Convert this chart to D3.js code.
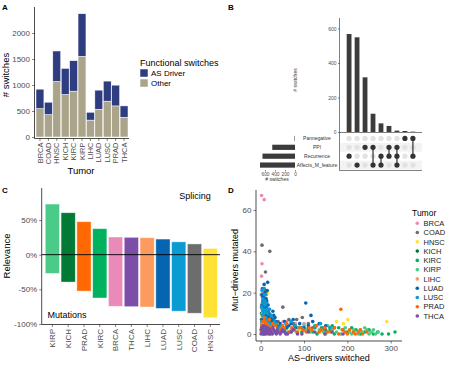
<!DOCTYPE html>
<html><head><meta charset="utf-8">
<script src="https://cdnjs.cloudflare.com/ajax/libs/d3/7.8.5/d3.min.js"></script>
<style>
body{margin:0;background:#fff;}
svg{font-family:"Liberation Sans",Arial,sans-serif;}
</style></head><body>
<svg id="fig" width="450" height="370"></svg>
<script>
// ---- data: panel A (switches per tumor)
const tumorsA = ["BRCA","COAD","HNSC","KICH","KIRC","KIRP","LIHC","LUAD","LUSC","PRAD","THCA"];
const otherA  = [547,431,1068,817,882,1551,325,534,689,598,380];
const driverA = [373,238,586,502,585,819,151,367,386,399,218];
const ticksA  = [0,500,1000,1500,2000];

// ---- data: panel B (upset)
const setNames = ["Pannegative","PPI","Recurrence","Affects_M_feature"];
const setSizes = [10,455,650,700];
const interCounts = [568,549,317,106,50,35,8,6,2];
const interSets = [["Recurrence"],["Affects_M_feature"],["PPI"],["PPI","Affects_M_feature"],
  ["Recurrence","Affects_M_feature"],["PPI","Recurrence"],["PPI","Recurrence","Affects_M_feature"],
  ["Pannegative"],["Pannegative","Recurrence"]];

// ---- data: panel C (relevance)
const tumorsC   = ["KIRP","KICH","PRAD","KIRC","BRCA","THCA","LIHC","LUAD","LUSC","COAD","HNSC"];
const splicingC = [73,60.5,47.5,37.5,25.5,25,24.5,22.5,18.5,15.5,9];
const mutationsC= [-27,-39.5,-52.5,-62.5,-74.5,-75,-75.5,-77.5,-81.5,-84.5,-91];

// ---- data: panel D (AS-drivers switched vs mut-drivers mutated)
const ptsBRCA = [[2,67],[8,65],[3,34],[2,28],[1,19],[5,20],[8,18],[12,16],[3,12],[6,9],[15,7],[10,5],[4,3],[20,4],[52,6],[60,6],[80,5],[100,5],[130,4],[25,2],[40,3],[70,2],[2,1],[6,0],[9,21],[14,11],[18,9],[35,5],[90,3]];
const ptsCOAD = [[3,43],[21,40],[11,30],[51,13],[96,8],[83,7],[8,22],[12,21],[4,18],[15,14],[6,12],[10,10],[20,9],[30,7],[40,6],[60,4],[75,5],[2,5],[18,3],[120,3],[150,2],[5,1],[13,17],[7,15],[17,11],[24,8],[110,5],[65,7]];
const ptsHNSC = [[175,6],[201,7],[191,5],[291,6],[14,19],[9,17],[5,14],[12,12],[3,8],[20,6],[30,4],[7,3],[45,2],[60,3],[90,2],[110,3],[140,1],[16,20],[10,9],[25,5]];
const ptsKICH = [[2,10],[4,6],[6,3],[10,2],[8,0],[15,1],[3,4],[1,2],[12,5],[20,3]];
const ptsKIRC = [[310,1],[295,0],[260,0],[240,1],[220,2],[200,1],[180,3],[160,2],[140,3],[120,1],[100,2],[85,3],[70,1],[55,2],[45,4],[35,1],[25,2],[170,0],[150,1],[130,0],[250,2],[230,0],[190,2],[110,3],[95,1],[78,4],[125,4],[145,2],[165,4],[210,3],[270,1],[280,0],[60,3]];
const ptsKIRP = [[271,1],[265,0],[255,1],[245,2],[235,1],[225,0],[215,2],[205,1],[195,3],[185,0],[165,2],[155,4],[145,1],[135,2],[125,3],[115,1],[105,2],[88,3],[75,2],[62,1],[50,3],[40,2],[30,1],[260,2],[250,0],[240,3],[230,2],[210,0],[175,1],[160,3],[150,0],[100,4],[82,1]];
const ptsLIHC = [[2,14],[4,10],[6,7],[3,5],[8,3],[12,2],[1,1],[15,4],[20,1],[5,0],[10,6],[25,3],[7,12],[11,8],[30,2]];
const ptsLUAD = [[104,15],[8,24],[16,25],[116,9],[75,7],[4,22],[10,20],[6,18],[14,16],[3,14],[12,13],[20,12],[8,11],[5,9],[18,8],[25,7],[30,9],[35,6],[45,5],[55,6],[65,4],[90,5],[110,4],[135,5],[150,4],[9,6],[13,4],[22,5],[40,3],[170,3],[100,3],[60,3],[2,7],[5,16],[11,17],[15,21],[7,13],[17,14],[19,10],[23,9],[28,11],[33,8],[38,4],[50,4],[70,5],[80,3],[120,6],[3,19],[13,9],[26,6]];
const ptsLUSC = [[7,22],[3,21],[12,19],[5,17],[9,16],[14,15],[2,13],[6,12],[11,11],[16,10],[4,9],[8,8],[13,7],[18,6],[22,5],[3,6],[28,4],[35,5],[42,3],[70,6],[80,4],[95,3],[125,3],[138,5],[160,3],[10,3],[17,4],[6,4],[4,15],[10,14],[15,12],[7,10],[12,8],[19,12],[24,9],[9,19],[5,11],[20,7],[32,6],[48,4],[58,5],[110,2],[145,3]];
const ptsPRAD = [[185,12],[214,1],[8,8],[5,6],[12,5],[20,7],[3,4],[25,3],[35,4],[45,2],[55,3],[65,1],[78,2],[90,3],[105,1],[118,2],[128,4],[140,2],[155,1],[170,3],[180,0],[195,1],[205,2],[225,1],[235,0],[245,1],[60,5],[15,2],[10,6],[18,4],[28,5],[40,1],[50,4],[72,3],[85,1],[98,2],[112,3],[135,1],[148,3],[162,1],[188,2],[200,0],[218,0],[230,2]];
const ptsTHCA = [[1,0],[3,1],[5,2],[7,0],[9,1],[11,3],[13,0],[15,2],[17,1],[19,0],[21,2],[24,1],[27,0],[30,2],[33,1],[36,0],[40,1],[45,0],[50,2],[55,1],[62,0],[70,1],[85,0],[110,1],[148,0],[190,0],[2,3],[6,4],[10,2],[4,1],[8,3],[12,1],[16,3],[22,0],[28,3],[38,2],[48,1],[58,0],[75,2],[95,0],[125,1],[165,1]];
const tumorsD = ["BRCA","COAD","HNSC","KICH","KIRC","KIRP","LIHC","LUAD","LUSC","PRAD","THCA"];
const pointsD = [ptsBRCA,ptsCOAD,ptsHNSC,ptsKICH,ptsKIRC,ptsKIRP,ptsLIHC,ptsLUAD,ptsLUSC,ptsPRAD,ptsTHCA];

const tumorColor = d3.scaleOrdinal()
  .domain(["BRCA","COAD","HNSC","KICH","KIRC","KIRP","LIHC","LUAD","LUSC","PRAD","THCA"])
  .range(["#ea8ab9","#6d6d6d","#ffe235","#017a36","#00b260","#4bcb88","#fd9b5f","#0565b0","#0a9bd3","#ff6803","#7b4ea8"]);

const svg = d3.select("#fig");

function cleanAxis(g, fs) {
  g.select(".domain").remove();
  g.selectAll(".tick line").attr("stroke", "#333").attr("stroke-width", 0.6);
  g.selectAll(".tick text").attr("fill", "#4d4d4d").style("font-size", fs + "px");
}
function line(g, x1, y1, x2, y2, w) {
  g.append("line").attr("x1", x1).attr("y1", y1).attr("x2", x2).attr("y2", y2)
    .attr("stroke", "#000").attr("stroke-width", w || 0.7);
}
function label(g, txt, x, y, o) {
  o = o || {};
  const t = g.append("text").attr("x", x).attr("y", y).text(txt)
    .style("font-size", (o.fs || 9) + "px").attr("fill", o.fill || "#000")
    .attr("text-anchor", o.anchor || "middle");
  if (o.rot) t.attr("transform", `rotate(${o.rot},${x},${y})`);
  if (o.bold) t.style("font-weight", "bold");
  return t;
}

// ================= Panel A
(function() {
  const g = svg.append("g");
  const x = d3.scaleBand().domain(tumorsA).range([35.5, 128.5]).padding(0.06);
  const y = d3.scaleLinear().domain([0, 2000]).range([137, 33]);
  const stack = tumorsA.map((t, i) => ({ t, other: otherA[i], driver: driverA[i] }));
  g.selectAll("rect.o").data(stack).enter().append("rect")
    .attr("x", d => x(d.t)).attr("width", x.bandwidth())
    .attr("y", d => y(d.other)).attr("height", d => y(0) - y(d.other))
    .attr("fill", "#a9a48a").attr("stroke", "#fff").attr("stroke-width", 0.5);
  g.selectAll("rect.d").data(stack).enter().append("rect")
    .attr("x", d => x(d.t)).attr("width", x.bandwidth())
    .attr("y", d => y(d.other + d.driver)).attr("height", d => y(d.other) - y(d.other + d.driver))
    .attr("fill", "#2e3c80").attr("stroke", "#fff").attr("stroke-width", 0.5);
  const ya = g.append("g").attr("transform", "translate(34.5,0)")
    .call(d3.axisLeft(y).tickValues(ticksA).tickFormat(d3.format("d")).tickSize(2.5).tickPadding(2));
  cleanAxis(ya, 8);
  const xa = g.append("g").attr("transform", "translate(0,138.5)")
    .call(d3.axisBottom(x).tickSize(2.5));
  cleanAxis(xa, 7.5);
  xa.selectAll(".tick text").attr("transform", "rotate(-90)").attr("text-anchor", "end")
    .attr("x", -4).attr("y", 0).attr("dy", "0.35em");
  line(g, 34.5, 7, 34.5, 138.5);
  line(g, 34.5, 138.5, 129, 138.5);
  label(g, "# switches", 9, 75, { rot: -90, fs: 9.5 });
  label(g, "Tumor", 81, 174, { fs: 9.5 });
  // legend
  label(g, "Functional switches", 140, 66, { anchor: "start", fs: 9 });
  const leg = [["AS Driver", "#2e3c80"], ["Other", "#a9a48a"]];
  leg.forEach((d, i) => {
    g.append("rect").attr("x", 140).attr("y", 69 + i * 10).attr("width", 8).attr("height", 8)
      .attr("fill", d[1]).attr("stroke", "#fff").attr("stroke-width", 0.5);
    label(g, d[0], 151, 76 + i * 10, { anchor: "start", fs: 8 });
  });
  label(g, "A", 2, 10, { anchor: "start", fs: 8, bold: true });
})();

// ================= Panel B
(function() {
  const g = svg.append("g");
  const x = d3.scaleBand().domain(d3.range(interCounts.length)).range([343.5, 418.5]).padding(0.4);
  const y = d3.scaleLinear().domain([0, 600]).range([132, 28.5]);
  g.selectAll("rect.b").data(interCounts).enter().append("rect")
    .attr("x", (d, i) => x(i)).attr("width", x.bandwidth())
    .attr("y", d => y(d)).attr("height", d => y(0) - y(d)).attr("fill", "#3b3b3b");
  const ya = g.append("g").attr("transform", "translate(339.5,0)")
    .call(d3.axisLeft(y).tickValues([0, 200, 400, 600]).tickSize(1.5).tickPadding(1.5));
  cleanAxis(ya, 5);
  line(g, 339.5, 18, 339.5, 132.5, 0.5);
  line(g, 339.5, 132.5, 422, 132.5, 0.5);
  label(g, "# switches", 297, 80, { rot: -90, fs: 5, fill: "#333" });

  // matrix
  const r = d3.scaleBand().domain(setNames).range([134, 169.5]);
  setNames.forEach((s, i) => {
    if (i % 2 === 1) g.append("rect").attr("x", 340).attr("y", r(s)).attr("width", 82)
      .attr("height", r.bandwidth()).attr("fill", "#f3f3f3");
  });
  interSets.forEach((sets, i) => {
    const cx = x(i) + x.bandwidth() / 2;
    const ys = sets.map(s => r(s) + r.bandwidth() / 2);
    setNames.forEach(s => {
      g.append("circle").attr("cx", cx).attr("cy", r(s) + r.bandwidth() / 2).attr("r", 2.6)
        .attr("fill", sets.includes(s) ? "#333" : "#e2e2e2");
    });
    if (sets.length > 1) g.append("line").attr("x1", cx).attr("x2", cx)
      .attr("y1", d3.min(ys)).attr("y2", d3.max(ys)).attr("stroke", "#333").attr("stroke-width", 1.2);
  });
  line(g, 339.5, 132.5, 339.5, 170.5, 0.5);
  line(g, 339.5, 170.5, 422, 170.5, 0.5);
  setNames.forEach(s => label(g, s, 317, r(s) + r.bandwidth() / 2 + 1.8, { fs: 5, fill: "#333" }));

  // set sizes
  const sx = d3.scaleLinear().domain([0, 700]).range([295, 260]);
  g.selectAll("rect.s").data(setSizes).enter().append("rect")
    .attr("x", d => sx(d)).attr("width", d => sx(0) - sx(d))
    .attr("y", (d, i) => r(setNames[i]) + r.bandwidth() / 2 - 2.6).attr("height", 5.2)
    .attr("fill", "#3b3b3b");
  const sa = g.append("g").attr("transform", "translate(0,170)")
    .call(d3.axisBottom(sx).tickValues([0, 200, 400, 600]).tickSize(1.5).tickPadding(1));
  cleanAxis(sa, 4.8);
  label(g, "# switches", 277, 181, { fs: 5, fill: "#333" });
  label(g, "B", 228, 10, { anchor: "start", fs: 8, bold: true });
})();

// ================= Panel C
(function() {
  const g = svg.append("g");
  const x = d3.scaleBand().domain(tumorsC).range([43.7, 219]).padding(0.1);
  const y = d3.scaleLinear().domain([-100, 50]).range([324, 220]);
  const rows = tumorsC.map((t, i) => ({ t, top: splicingC[i], bot: mutationsC[i] }));
  g.selectAll("rect").data(rows).enter().append("rect")
    .attr("x", d => x(d.t)).attr("width", x.bandwidth())
    .attr("y", d => y(d.top)).attr("height", d => y(d.bot) - y(d.top))
    .attr("fill", d => tumorColor(d.t)).attr("stroke", "#fff").attr("stroke-opacity", 0.5)
    .attr("stroke-width", 0.8);
  line(g, 41.7, y(0), 220, y(0), 0.9);
  const ya = g.append("g").attr("transform", "translate(41.7,0)")
    .call(d3.axisLeft(y).tickValues([-100, -50, 0, 50]).tickFormat(d => d + "%").tickSize(2.5).tickPadding(2));
  cleanAxis(ya, 8);
  const xa = g.append("g").attr("transform", "translate(0,324.5)")
    .call(d3.axisBottom(x).tickSize(2.5));
  cleanAxis(xa, 8);
  xa.selectAll(".tick text").attr("transform", "rotate(-90)").attr("text-anchor", "end")
    .attr("x", -4.5).attr("y", 0).attr("dy", "0.35em");
  line(g, 41.7, 188, 41.7, 324.5);
  line(g, 41.7, 324.5, 220, 324.5);
  label(g, "Relevance", 10, 256, { rot: -90, fs: 9.5 });
  label(g, "Splicing", 195, 199, { fs: 9 });
  label(g, "Mutations", 67, 317.5, { fs: 9 });
  label(g, "C", 2, 193, { anchor: "start", fs: 8, bold: true });
})();

// ================= Panel D
(function() {
  const g = svg.append("g");
  const x = d3.scaleLinear().domain([0, 300]).range([260.7, 390.7]);
  const y = d3.scaleLinear().domain([0, 60]).range([334, 210]);
  tumorsD.forEach((t, k) => {
    g.selectAll(null).data(pointsD[k]).enter().append("circle")
      .attr("cx", d => x(d[0])).attr("cy", d => y(d[1])).attr("r", 1.8)
      .attr("fill", tumorColor(t));
  });
  const ya = g.append("g").attr("transform", "translate(256,0)")
    .call(d3.axisLeft(y).tickValues([0, 20, 40, 60]).tickSize(2.5).tickPadding(2));
  cleanAxis(ya, 8);
  const xa = g.append("g").attr("transform", "translate(0,341)")
    .call(d3.axisBottom(x).tickValues([0, 100, 200, 300]).tickSize(2.5).tickPadding(1.5));
  cleanAxis(xa, 8);
  line(g, 256, 190, 256, 341);
  line(g, 256, 341, 402, 341);
  label(g, "AS\u2212drivers switched", 329, 361, { fs: 9 });
  label(g, "Mut\u2212drivers mutated", 238, 270, { rot: -90, fs: 9 });
  // legend
  label(g, "Tumor", 412, 216, { anchor: "start", fs: 8.5 });
  tumorsD.forEach((t, i) => {
    const yy = 223.3 + i * 9.27;
    g.append("circle").attr("cx", 417.3).attr("cy", yy).attr("r", 1.8).attr("fill", tumorColor(t));
    label(g, t, 423.5, yy + 2.7, { anchor: "start", fs: 7.5, fill: "#222" });
  });
  label(g, "D", 228, 193, { anchor: "start", fs: 8, bold: true });
})();
</script>
</body></html>
